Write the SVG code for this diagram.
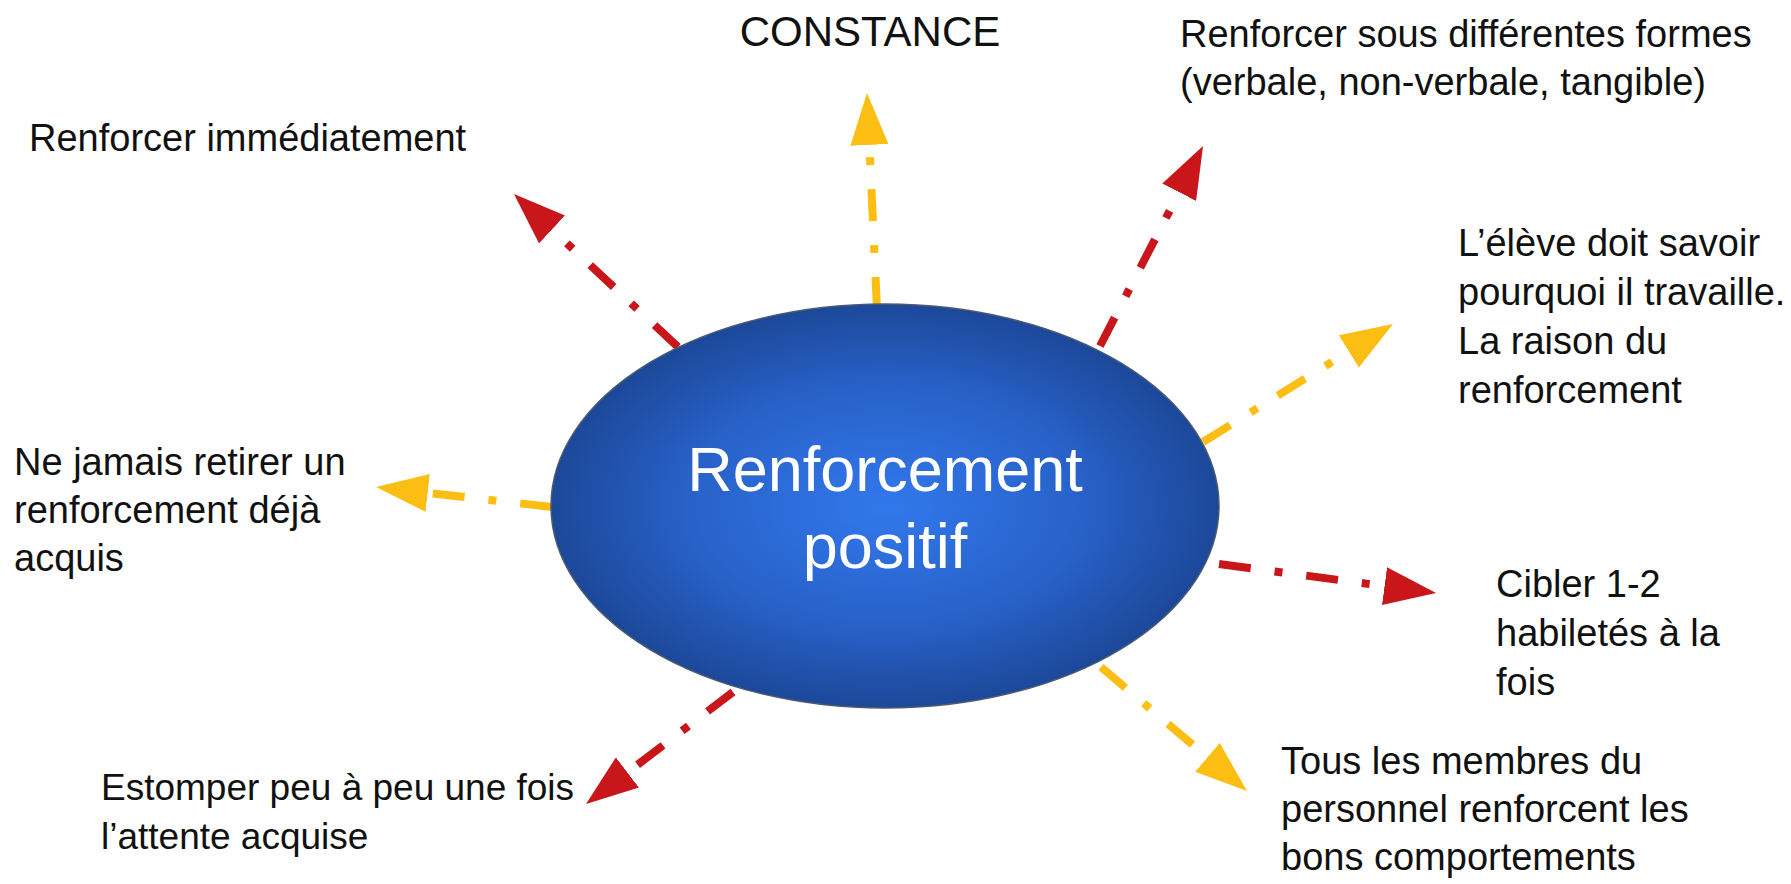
<svg xmlns="http://www.w3.org/2000/svg" width="1791" height="884" viewBox="0 0 1791 884">
  <style>
    .lbl { font-family: "Liberation Sans", Arial, sans-serif; font-size: 38px; fill: #111111; }
    .title { font-family: "Liberation Sans", Arial, sans-serif; font-size: 63px; fill: #ffffff; text-anchor: middle; }
    .red { fill: none; stroke: #C9161A; stroke-width: 8; stroke-dasharray: 32 24 8 24; marker-end: url(#headRed); }
    .yel { fill: none; stroke: #FDBE14; stroke-width: 8; stroke-dasharray: 32 24 8 24; marker-end: url(#headYel); }
  </style>
  <defs>
    <radialGradient id="blueGrad" cx="50%" cy="50%" r="50%">
      <stop offset="0" stop-color="#3178EC"/>
      <stop offset="0.6" stop-color="#2861C8"/>
      <stop offset="1" stop-color="#1C4899"/>
    </radialGradient>
    <marker id="headRed" viewBox="0 0 52 38" markerWidth="52" markerHeight="38" refX="0" refY="19" orient="auto" markerUnits="userSpaceOnUse">
      <path d="M0,0 L52,19 L0,38 Z" fill="#C9161A"/>
    </marker>
    <marker id="headYel" viewBox="0 0 52 38" markerWidth="52" markerHeight="38" refX="0" refY="19" orient="auto" markerUnits="userSpaceOnUse">
      <path d="M0,0 L52,19 L0,38 Z" fill="#FDBE14"/>
    </marker>
  </defs>

  <rect width="1791" height="884" fill="#ffffff"/>

  <g id="connectors">
    <path class="yel" d="M877,309 L869.4,144.9"/>
    <path class="red" d="M678,347 L552,229.5"/>
    <path class="red" d="M1100,346 L1179.2,192.2"/>
    <path class="yel" d="M1203,442 L1348.8,351.4"/>
    <path class="yel" d="M552,507 L427.7,492.9"/>
    <path class="red" d="M1219,564 L1384.5,586.1"/>
    <path class="red" d="M733,692 L627.4,772.5"/>
    <path class="yel" d="M1101,667 L1207.4,757.3"/>
  </g>

  <g id="center">
    <ellipse cx="885" cy="506" rx="334" ry="202" fill="url(#blueGrad)" stroke="#4A5A72" stroke-width="1.5"/>
    <text class="title" x="885" y="491">Renforcement</text>
    <text class="title" x="885" y="568">positif</text>
  </g>

  <g id="constance">
    <text class="lbl" x="870" y="46" text-anchor="middle" style="font-size:42px">CONSTANCE</text>
  </g>

  <g id="formes">
    <text class="lbl" x="1180" y="47">Renforcer sous différentes formes</text>
    <text class="lbl" x="1180" y="95">(verbale, non-verbale, tangible)</text>
  </g>

  <g id="immediatement">
    <text class="lbl" x="29" y="151">Renforcer immédiatement</text>
  </g>

  <g id="raison">
    <text class="lbl" x="1458" y="256">L’élève doit savoir</text>
    <text class="lbl" x="1458" y="305">pourquoi il travaille.</text>
    <text class="lbl" x="1458" y="354">La raison du</text>
    <text class="lbl" x="1458" y="403">renforcement</text>
  </g>

  <g id="retirer">
    <text class="lbl" x="14" y="475">Ne jamais retirer un</text>
    <text class="lbl" x="14" y="523">renforcement déjà</text>
    <text class="lbl" x="14" y="571">acquis</text>
  </g>

  <g id="cibler">
    <text class="lbl" x="1496" y="597">Cibler 1-2</text>
    <text class="lbl" x="1496" y="646">habiletés à la</text>
    <text class="lbl" x="1496" y="695">fois</text>
  </g>

  <g id="estomper">
    <text class="lbl" x="101" y="800" style="font-size:37px">Estomper peu à peu une fois</text>
    <text class="lbl" x="101" y="849" style="font-size:37px">l’attente acquise</text>
  </g>

  <g id="personnel">
    <text class="lbl" x="1281" y="774">Tous les membres du</text>
    <text class="lbl" x="1281" y="822">personnel renforcent les</text>
    <text class="lbl" x="1281" y="870">bons comportements</text>
  </g>
</svg>
